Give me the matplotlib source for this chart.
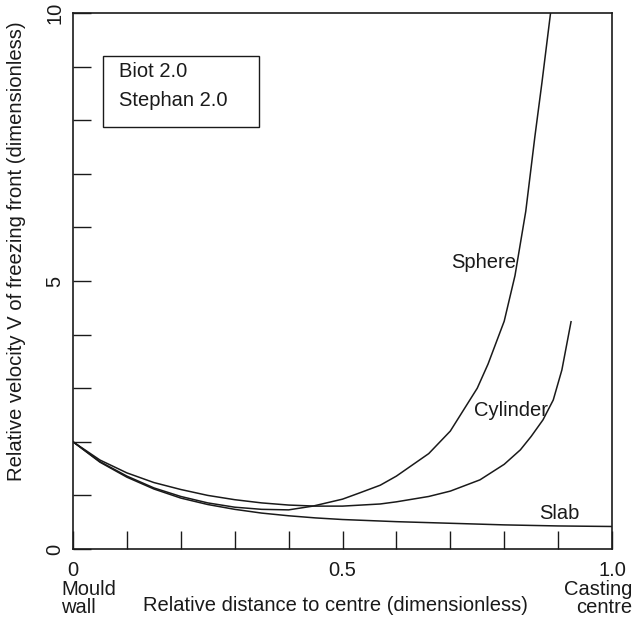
import matplotlib
matplotlib.use("Agg")
import matplotlib.pyplot as plt
from matplotlib.patches import Rectangle
import numpy as np

plt.rcParams['font.family'] = ['Liberation Sans', 'DejaVu Sans']

# curves (relative distance -> relative velocity)
slab_x = [0, 0.05, 0.1, 0.15, 0.2, 0.25, 0.3, 0.35, 0.4, 0.45, 0.5, 0.6, 0.7, 0.8, 0.9, 1.0]
slab_v = [2.0, 1.62, 1.34, 1.12, 0.95, 0.83, 0.74, 0.67, 0.62, 0.58, 0.55, 0.51, 0.48, 0.45, 0.43, 0.42]

sphere_x = [0, 0.05, 0.1, 0.15, 0.2, 0.25, 0.3, 0.35, 0.4, 0.445, 0.5, 0.53, 0.57, 0.6, 0.66, 0.7,
            0.72, 0.75, 0.77, 0.8, 0.82, 0.84, 0.857, 0.87, 0.886]
sphere_v = [2.0, 1.63, 1.36, 1.14, 0.98, 0.86, 0.78, 0.74, 0.73, 0.80, 0.93, 1.04, 1.19, 1.36, 1.78, 2.2,
            2.52, 3.0, 3.45, 4.25, 5.1, 6.3, 7.7, 8.7, 10.0]

cyl_x = [0, 0.05, 0.1, 0.15, 0.2, 0.25, 0.3, 0.35, 0.4, 0.45, 0.5, 0.57, 0.6, 0.66, 0.7, 0.755,
         0.8, 0.83, 0.85, 0.872, 0.891, 0.907, 0.924]
cyl_v = [2.0, 1.66, 1.42, 1.24, 1.11, 1.0, 0.92, 0.86, 0.82, 0.80, 0.80, 0.84, 0.88, 0.98, 1.08, 1.29,
         1.58, 1.85, 2.1, 2.41, 2.78, 3.34, 4.24]

x_ticks = np.round(np.arange(0, 1.01, 0.1), 1)
x_ticklabels = ['0' if t == 0 else ('0.5' if t == 0.5 else ('1.0' if t == 1.0 else '')) for t in x_ticks]
y_ticks = list(range(0, 11))
y_ticklabels = [str(t) if t % 5 == 0 else '' for t in y_ticks]

fs = 14.5
fig = plt.figure(figsize=(6.33, 6.22), dpi=100)
ax = fig.add_axes([73 / 633, 1 - 549 / 622, 539 / 633, 536 / 622])

lc = '#1a1a1a'
ax.plot(slab_x, slab_v, color=lc, lw=1.1)
ax.plot(sphere_x, sphere_v, color=lc, lw=1.1)
ax.plot(cyl_x, cyl_v, color=lc, lw=1.1)

ax.set_xlim(0, 1.0)
ax.set_ylim(0, 10)
ax.set_xticks(x_ticks)
ax.set_xticklabels(x_ticklabels)
ax.set_yticks(y_ticks)
ax.set_yticklabels(y_ticklabels, rotation=90, va='center')
ax.tick_params(axis='both', direction='in', length=13, width=1, labelsize=fs, color=lc, labelcolor=lc)
ax.tick_params(axis='x', pad=9)
ax.tick_params(axis='y', pad=6)
for s in ax.spines.values():
    s.set_linewidth(1.2)
    s.set_color(lc)

ax.set_xlabel("Relative distance to centre (dimensionless)", fontsize=fs, color=lc)
ax.xaxis.set_label_coords(0.486, -0.1045)
ax.xaxis.label.set_va('center')
ax.set_ylabel("Relative velocity V of freezing front (dimensionless)", fontsize=14.6, color=lc)
ax.yaxis.set_label_coords(-0.104, 0.556)
ax.yaxis.label.set_va('center')

ax.text(0.761, 5.35, "Sphere", fontsize=fs, ha='center', va='center', color=lc)
ax.text(0.813, 2.59, "Cylinder", fontsize=fs, ha='center', va='center', color=lc)
ax.text(0.902, 0.67, "Slab", fontsize=fs, ha='center', va='center', color=lc)

fig.text(61 / 633, 1 - 580 / 622, "Mould\nwall", fontsize=fs, ha='left', va='top',
         linespacing=0.95, color=lc)
fig.text(0.999, 1 - 580 / 622, "Casting\ncentre", fontsize=fs, ha='right', va='top',
         linespacing=0.95, color=lc)

ax.add_patch(Rectangle((0.0557, 0.787), 0.289, 0.133, transform=ax.transAxes,
                       facecolor='white', edgecolor=lc, linewidth=1.0))
ax.text(0.085, 0.89, "Biot 2.0", transform=ax.transAxes, fontsize=fs, ha='left', va='center', color=lc)
ax.text(0.085, 0.836, "Stephan 2.0", transform=ax.transAxes, fontsize=fs, ha='left', va='center', color=lc)

fig.savefig("out.png", dpi=100)
